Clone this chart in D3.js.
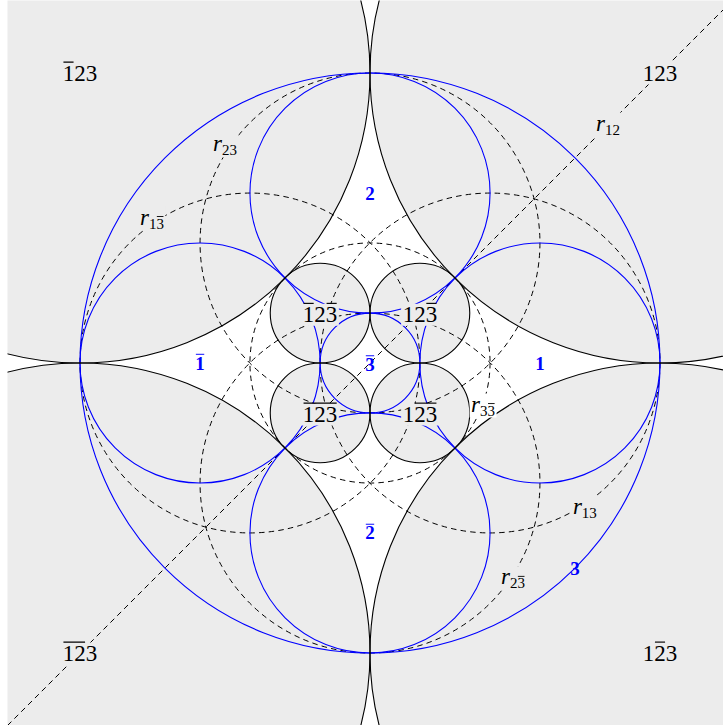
<!DOCTYPE html>
<html>
<head>
<meta charset="utf-8">
<script src="https://cdn.jsdelivr.net/npm/d3@7"></script>
<style>
body { margin: 0; background: #fff; }
</style>
</head>
<body>
<div id="chart"></div>
<script>
// geometry in units of the big circle's radius
const frame = [-1.25, 1.25];
const cornerCircles = [[1, 1, 1], [-1, 1, 1], [-1, -1, 1], [1, -1, 1]];
const innerCircles = [[0.172, 0.172, 0.172], [-0.172, 0.172, 0.172], [-0.172, -0.172, 0.172], [0.172, -0.172, 0.172]];
const blueCircles = [[0, 0, 1], [0.586, 0, 0.414], [-0.586, 0, 0.414], [0, 0.586, 0.414], [0, -0.586, 0.414], [0, 0, 0.172]];
const dashedCircles = [[0, 0.414, 0.586], [-0.414, 0, 0.586], [0.414, 0, 0.586], [0, -0.414, 0.586], [0, 0, 0.414]];
const dashedLines = [[-1.25, -1.25, 1.25, 1.25]];

// labels: text, overline flags, x, y
const cornerLabels = [["123", "000", 1, 1], ["123", "100", -1, 1], ["123", "110", -1, -1], ["123", "010", 1, -1]];
const innerLabels = [["123", "001", 0.172, 0.168], ["123", "101", -0.172, 0.168], ["123", "111", -0.172, -0.176], ["123", "011", 0.172, -0.176]];
const blueLabels = [["1", "0", 0.586, 0], ["1", "1", -0.586, 0], ["2", "0", 0, 0.586], ["2", "1", 0, -0.586], ["3", "0", 0.707, -0.707], ["3", "1", 0, -0.005]];
const rLabels = [["12", "00", 0.821, 0.824], ["23", "00", -0.5, 0.752], ["13", "01", -0.752, 0.5],
                 ["13", "00", 0.741, -0.497], ["23", "01", 0.493, -0.741], ["33", "01", 0.39, -0.145]];

const width = 723, height = 725;
const gray = "#ececec", blue = "#0000ff", serif = "'Liberation Serif', 'DejaVu Serif', serif";

const x = d3.scaleLinear().domain(frame).range([7.5, 732.5]);
const y = d3.scaleLinear().domain(frame).range([725.5, 0.5]);
const k = x(1) - x(0);

const svg = d3.select("#chart").append("svg")
    .attr("width", width)
    .attr("height", height);

svg.append("defs").append("clipPath").attr("id", "frame")
    .append("rect")
    .attr("x", x(frame[0])).attr("y", y(frame[1]))
    .attr("width", x(frame[1]) - x(frame[0]))
    .attr("height", y(frame[0]) - y(frame[1]));

const g = svg.append("g").attr("clip-path", "url(#frame)");

g.append("rect")
    .attr("x", x(frame[0])).attr("y", y(frame[1]))
    .attr("width", x(frame[1]) - x(frame[0]))
    .attr("height", y(frame[0]) - y(frame[1]))
    .attr("fill", "#fff");

const blackCircles = cornerCircles.concat(innerCircles);

function circles(sel, data, cls) {
    return sel.selectAll("circle." + cls)
        .data(data)
        .join("circle")
        .attr("class", cls)
        .attr("cx", d => x(d[0]))
        .attr("cy", d => y(d[1]))
        .attr("r", d => d[2] * k);
}

circles(g, blackCircles, "shade").attr("fill", gray).attr("stroke", "none");

circles(g, dashedCircles, "dashed")
    .attr("fill", "none")
    .attr("stroke", "#000")
    .attr("stroke-width", 1)
    .attr("stroke-dasharray", "5.5,4.2");

g.selectAll("line.dashed")
    .data(dashedLines)
    .join("line")
    .attr("class", "dashed")
    .attr("x1", d => x(d[0])).attr("y1", d => y(d[1]))
    .attr("x2", d => x(d[2])).attr("y2", d => y(d[3]))
    .attr("stroke", "#000")
    .attr("stroke-width", 1)
    .attr("stroke-dasharray", "5.5,4.2");

circles(g, blueCircles, "blue").attr("fill", "none").attr("stroke", blue).attr("stroke-width", 1.1);
circles(g, blackCircles, "black").attr("fill", "none").attr("stroke", "#000").attr("stroke-width", 1.1);

function insideGray(ux, uy) {
    return blackCircles.some(c => Math.hypot(ux - c[0], uy - c[1]) < c[2]);
}

function drawLabel(parent, ux, uy, parts, color, bg) {
    const lg = parent.append("g");
    const t = lg.append("text")
        .attr("x", 0).attr("y", 0)
        .attr("font-family", serif)
        .attr("fill", color);
    let prevDy = 0;
    parts.forEach(p => {
        t.append("tspan")
            .attr("font-size", p.size)
            .attr("font-weight", p.weight || "normal")
            .attr("font-style", p.style || "normal")
            .attr("dy", (p.dy || 0) - prevDy)
            .text(p.text);
        prevDy = p.dy || 0;
    });

    const node = t.node();
    let idx = 0;
    parts.forEach(p => {
        const bars = p.bars || "";
        let i = 0;
        while (i < p.text.length) {
            if (bars[i] === "1") {
                let j = i;
                while (j + 1 < p.text.length && bars[j + 1] === "1") j++;
                const a = node.getExtentOfChar(idx + i),
                    b = node.getExtentOfChar(idx + j);
                const ly = (p.dy || 0) - p.size * 0.8;
                lg.append("line")
                    .attr("x1", a.x + p.size * 0.03).attr("x2", b.x + b.width - p.size * 0.03)
                    .attr("y1", ly).attr("y2", ly)
                    .attr("stroke", color)
                    .attr("stroke-width", Math.max(0.9, p.size * 0.05));
                i = j + 1;
            } else {
                i++;
            }
        }
        idx += p.text.length;
    });

    const bb = lg.node().getBBox();
    if (bg) {
        lg.insert("rect", ":first-child")
            .attr("x", bb.x - 1.5).attr("y", bb.y + 2)
            .attr("width", bb.width + 3).attr("height", bb.height - 3)
            .attr("fill", insideGray(ux, uy) ? gray : "#fff");
    }
    lg.attr("transform", "translate(" + (x(ux) - bb.x - bb.width / 2) + "," + (y(uy) - bb.y - bb.height / 2) + ")");
}

const labels = g.append("g");

cornerLabels.concat(innerLabels).forEach(d => {
    drawLabel(labels, d[2], d[3], [{text: d[0], bars: d[1], size: 23}], "#000", true);
});

rLabels.forEach(d => {
    drawLabel(labels, d[2], d[3], [
        {text: "r", size: 23, style: "italic"},
        {text: d[0], bars: d[1], size: 15, dy: 4}
    ], "#000", true);
});

blueLabels.forEach(d => {
    drawLabel(labels, d[2], d[3], [{text: d[0], bars: d[1], size: 19, weight: "bold"}], blue, false);
});
</script>
</body>
</html>
